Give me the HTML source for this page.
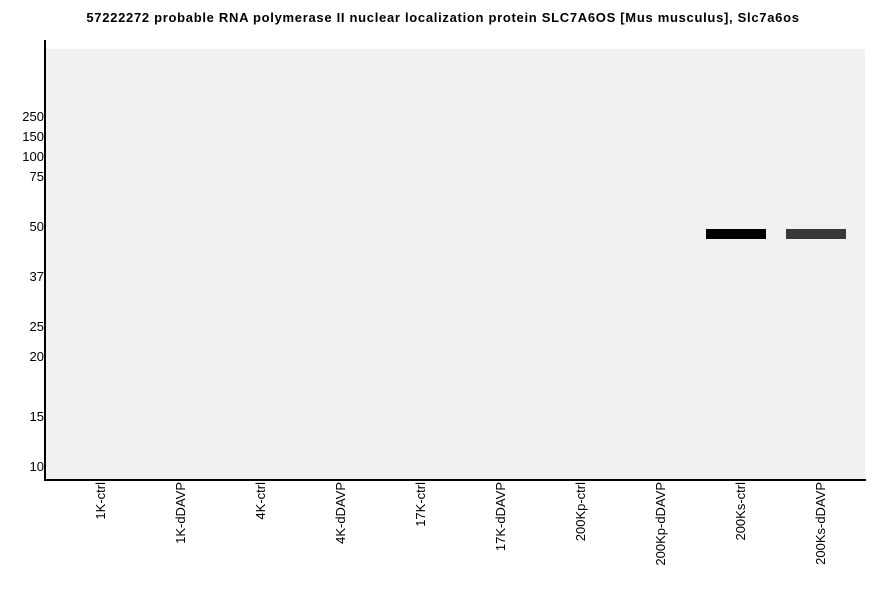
<!DOCTYPE html>
<html><head><style>
body{margin:0;width:886px;height:595px;background:#fff;position:relative;font-family:"Liberation Sans",sans-serif;overflow:hidden}
.t{position:absolute;top:10px;left:0;width:886px;text-align:center;font-size:13px;font-weight:bold;color:#000;letter-spacing:0.7px}
.y{position:absolute;right:842px;font-size:13px;color:#000;line-height:14px;letter-spacing:0px}
.x{position:absolute;top:482px;font-size:13px;color:#000;transform-origin:0 0;transform:rotate(-90deg);white-space:nowrap;text-align:right;width:120px;line-height:14px}
</style></head><body>
<div class="t">57222272 probable RNA polymerase II nuclear localization protein SLC7A6OS [Mus musculus], Slc7a6os</div>
<div style="position:absolute;left:46px;top:49px;width:819px;height:430px;background:#f1f1f1"></div>
<div style="position:absolute;left:44px;top:40px;width:2px;height:441px;background:#000"></div>
<div style="position:absolute;left:44px;top:479px;width:822px;height:2px;background:#000"></div>
<div style="position:absolute;left:706px;top:229px;width:60px;height:10px;background:#000"></div>
<div style="position:absolute;left:786px;top:229px;width:60px;height:10px;background:#383838"></div>
<div class="y" style="top:110px">250</div>
<div class="y" style="top:130px">150</div>
<div class="y" style="top:150px">100</div>
<div class="y" style="top:170px">75</div>
<div class="y" style="top:220px">50</div>
<div class="y" style="top:270px">37</div>
<div class="y" style="top:320px">25</div>
<div class="y" style="top:350px">20</div>
<div class="y" style="top:410px">15</div>
<div class="y" style="top:460px">10</div>
<div class="x" style="left:94px;top:602px">1K-ctrl</div>
<div class="x" style="left:174px;top:602px">1K-dDAVP</div>
<div class="x" style="left:254px;top:602px">4K-ctrl</div>
<div class="x" style="left:334px;top:602px">4K-dDAVP</div>
<div class="x" style="left:414px;top:602px">17K-ctrl</div>
<div class="x" style="left:494px;top:602px">17K-dDAVP</div>
<div class="x" style="left:574px;top:602px">200Kp-ctrl</div>
<div class="x" style="left:654px;top:602px">200Kp-dDAVP</div>
<div class="x" style="left:734px;top:602px">200Ks-ctrl</div>
<div class="x" style="left:814px;top:602px">200Ks-dDAVP</div>
</body></html>
